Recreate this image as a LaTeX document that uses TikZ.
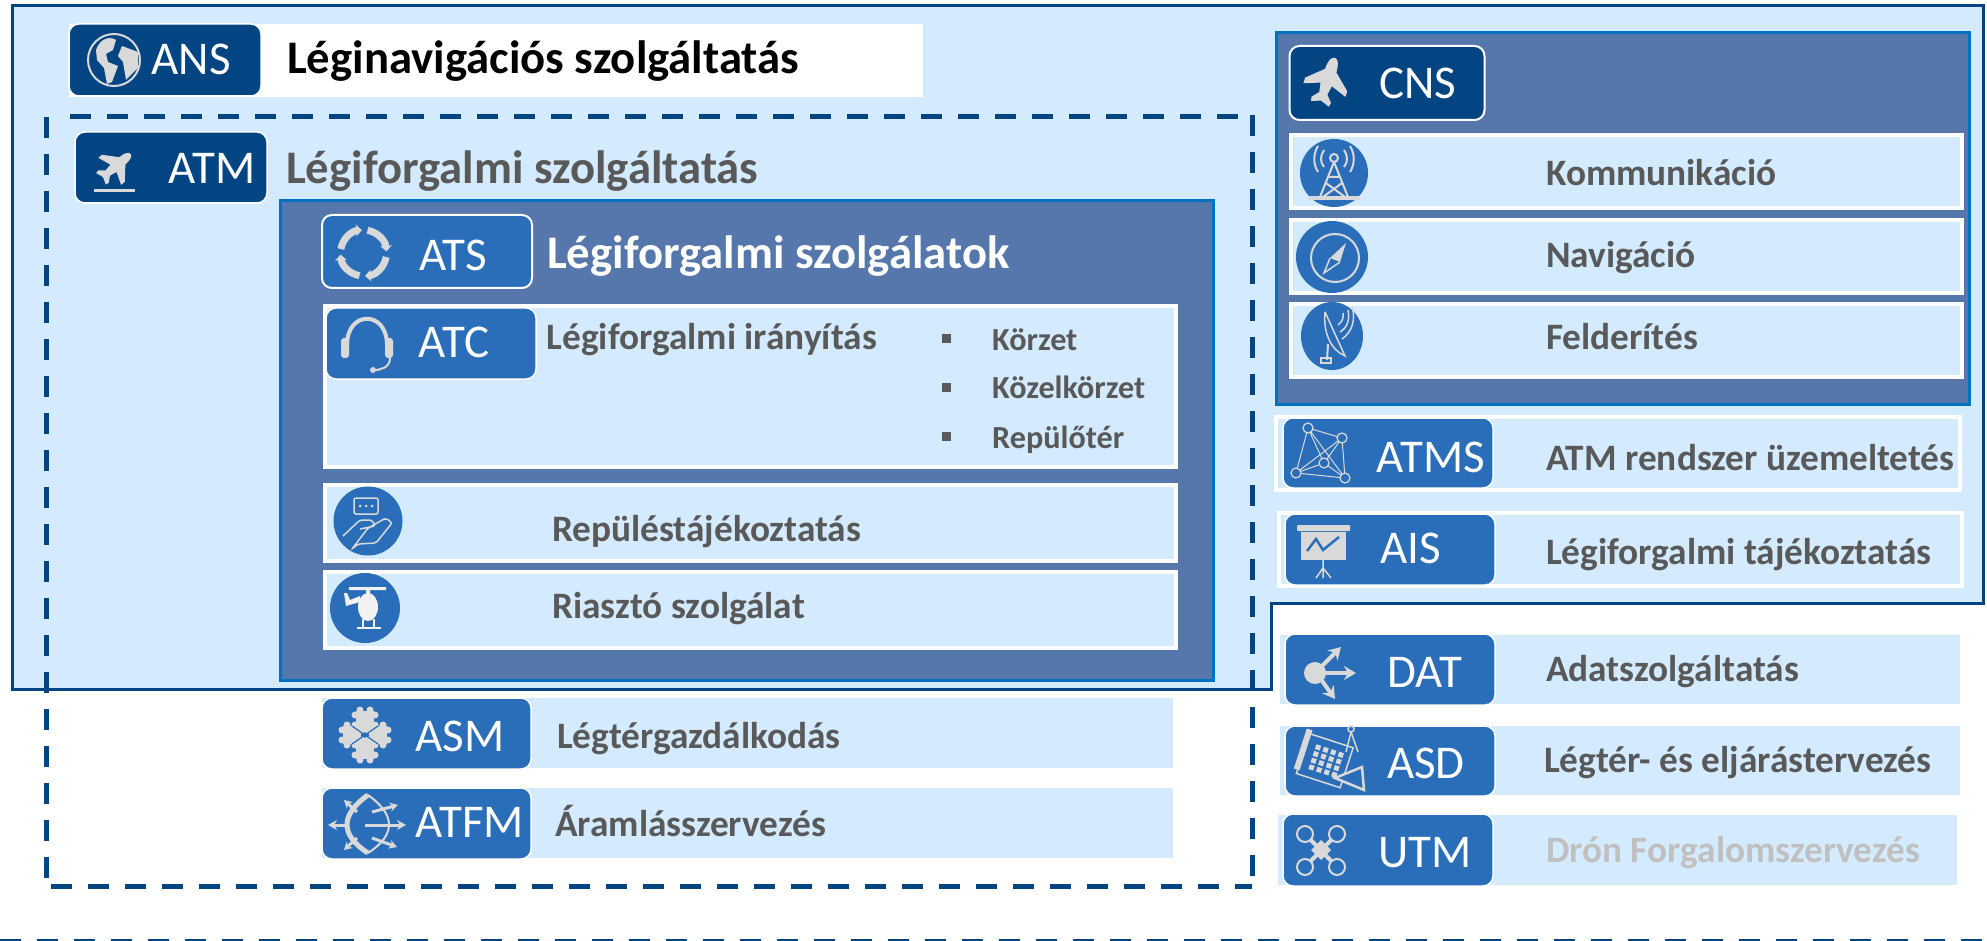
\documentclass[tikz,border=0pt]{standalone}
\usepackage{fontspec}
\usepackage{tikz}
\usepackage{xcolor}
\usetikzlibrary{arrows.meta,calc}
\setmainfont{Carlito}
\definecolor{panelblue}{RGB}{211,234,255}
\definecolor{slateblue}{RGB}{86,119,171}
\definecolor{navyblue}{RGB}{3,68,130}
\definecolor{badgeblue}{RGB}{42,110,186}
\definecolor{edgeblue}{RGB}{0,112,192}
\definecolor{textgrey}{RGB}{89,89,89}
\definecolor{fadegrey}{RGB}{192,192,192}
\definecolor{icongrey}{RGB}{217,217,217}
\tikzset{
  navybadge/.style={fill=navyblue,draw=white,line width=1.5,rounded corners=10},
  bluebadge/.style={fill=badgeblue,draw=white,line width=1.5,rounded corners=10},
  rowbox/.style={fill=panelblue,draw=white,line width=3.5},
  slatepanel/.style={fill=slateblue,draw=edgeblue,line width=3},
  atmdash/.style={draw=navyblue,line width=5,dash pattern=on 21 off 16},
  badgetext/.style={text=white,font=\fontsize{47}{50}\selectfont,inner sep=0},
  bigtitle/.style={anchor=base west,yshift=-2pt,font=\fontsize{46.7}{50}\selectfont\bfseries,inner sep=0},
  rowtitle/.style={anchor=base west,yshift=-2pt,text=textgrey,font=\fontsize{37.3}{40}\selectfont\bfseries,inner sep=0},
  subtitle/.style={anchor=base west,yshift=-2pt,text=textgrey,font=\fontsize{32.2}{36}\selectfont\bfseries,inner sep=0},
  roundicon/.style={fill=badgeblue},
  planeicon/.pic={
    \fill[icongrey] (0,-30) .. controls (4,-30) and (7,-24) .. (7,-14) -- (26,3) -- (26,10) -- (7,3) -- (5,14) -- (12,22) -- (11,27)
      -- (0,23) -- (-11,27) -- (-12,22) -- (-5,14) -- (-7,3) -- (-26,10) -- (-26,3) -- (-7,-14) .. controls (-7,-24) and (-4,-30) .. (0,-30) -- cycle;
  },
}
\begin{document}
\begin{tikzpicture}[x=1pt,y=-1pt]
    \useasboundingbox (0,0) rectangle (1987,941);

    % Outer panel with notch
    \draw[fill=panelblue,draw=navyblue,line width=3] (12,6) -- (1983,6) -- (1983,603) -- (1271,603) -- (1271,689) -- (12,689) -- cycle;
    \fill[white] (69,24) rectangle (923,97);

    % ANS
    \draw[navybadge] (69,24) rectangle (261,96);
    \draw[icongrey,line width=2] (114,60) circle (26);
    \fill[icongrey] (96,50) .. controls (100,38) and (110,36) .. (116,40) -- (113,50) -- (106,54) -- (108,62) -- (118,66) -- (112,82) -- (107,84) -- (104,68) -- (97,60) -- cycle;
    \fill[icongrey] (122,46) -- (138,52) -- (138,68) -- (126,80) -- (123,62) -- (118,56) -- cycle;
    \node[badgetext] (ans) at (191,59) {ANS};
    \node[bigtitle] (anstitle) at (287,72) {Léginavigációs szolgáltatás};

    % ATM dashed frame
    \draw[atmdash] (46.5,117) -- (46.5,886);
    \draw[atmdash] (70,117) -- (1252,117);
    \draw[atmdash] (1252,115) -- (1252,886);
    \draw[atmdash] (51,886) -- (1252,886);

    \draw[navybadge] (75,132) rectangle (267,203);
    \pic[rotate=-50,scale=.68] at (115,167) {planeicon};
    \fill[icongrey] (94,189) rectangle (135,192);
    \node[badgetext] (atm) at (212,168) {ATM};
    \node[bigtitle,text=textgrey] (atmtitle) at (286,182) {Légiforgalmi szolgáltatás};

    % ATS panel
    \draw[slatepanel] (280,201) rectangle (1213,680);
    \draw[bluebadge,line width=2] (322,215) rectangle (532,288);
    \foreach \a in {10,100,190,280} {
        \draw[icongrey,line width=7,-{Stealth[length=6,width=12]}] ($(363.5,253)+(\a:23)$) arc[start angle=\a,end angle=\a+76,radius=23];
    }
    \node[badgetext] (ats) at (453,255) {ATS};
    \node[bigtitle,text=white] (atstitle) at (547,267) {Légiforgalmi szolgálatok};

    % ATC row
    \draw[rowbox] (325,306) rectangle (1176,467);
    \draw[bluebadge] (326,308) rectangle (536,379);
    \draw[icongrey,line width=4] (347,345) .. controls (347,310) and (387,310) .. (387,345);
    \fill[icongrey,rounded corners=3] (341,338) rectangle (349,358);
    \fill[icongrey,rounded corners=3] (385,338) rectangle (393,358);
    \draw[icongrey,line width=2] (390,358) .. controls (390,368) and (380,370) .. (374,370);
    \fill[icongrey] (373,370) circle (3);
    \node[badgetext] (atc) at (454,342) {ATC};
    \node[rowtitle] (atctitle) at (546.5,348) {Légiforgalmi irányítás};
    \foreach \y/\name/\label in {339/korzet/Körzet,387/kozel/Közelkörzet,436/repter/Repülőtér} {
        \fill[textgrey] (942,\y-4.5) rectangle (951,\y+4.5);
        \node[subtitle] (\name) at (992,\y+10) {\label};
    }

    % FIS and alerting rows
    \draw[rowbox] (325,485) rectangle (1176,561);
    \fill[roundicon] (368,521) circle (34.5);
    \draw[icongrey,line width=1.5,rounded corners=2] (354,498) -- (378,498) -- (378,514) -- (373,514) -- (354,514) -- cycle;
    \fill[icongrey] (360,506) circle (1.5) (366,506) circle (1.5) (372,506) circle (1.5);
    \draw[icongrey,line width=1.5,rounded corners=2] (343,536) -- (360,520) -- (372,520) -- (375,526) -- (360,529) (368,528) -- (386,518) -- (392,523) -- (376,543) -- (358,544) -- (352,549) -- cycle;
    \node[rowtitle] (fis) at (552,539) {Repüléstájékoztatás};

    \draw[rowbox] (325,572) rectangle (1176,648);
    \fill[roundicon] (365,608) circle (35);
    \fill[white!95!black] (349,587) rectangle (386,590) (366,590) rectangle (370,596);
    \fill[white!95!black] (368,607) ellipse (10 and 14);
    \fill[white!95!black] (360,602) -- (346,606) -- (344,593) -- (347,593) -- (350,600) -- (360,596) -- cycle;
    \draw[white!95!black,line width=2] (357,628) -- (381,628) (363,619) -- (363,628) (374,619) -- (374,628);
    \node[rowtitle] (alert) at (552,616) {Riasztó szolgálat};

    % ASM and ATFM rows
    \fill[panelblue] (322,698) rectangle (1173,768);
    \draw[bluebadge] (322,698) rectangle (531,769);
    \foreach \dx/\dy in {-13/0,13/0,0/-15,0/15} {
        \fill[icongrey] (365+\dx-9,735+\dy-9) rectangle (365+\dx+9,735+\dy+9);
        \foreach \ex/\ey in {-10/-5,-10/5,10/-5,10/5,-5/-10,5/-10,-5/10,5/10} {
            \fill[icongrey] (365+\dx+\ex,735+\dy+\ey) circle (3.5);
        }
    }
    \draw[badgeblue,line width=1.2] (352,726) -- (378,744) (378,726) -- (352,744);
    \node[badgetext] (asm) at (460,736) {ASM};
    \node[rowtitle] (asmtitle) at (557,746) {Légtérgazdálkodás};

    \fill[panelblue] (322,788) rectangle (1173,858);
    \draw[bluebadge] (322,788) rectangle (531,859);
    \draw[icongrey,line width=5] (368,795) .. controls (340,815) and (340,835) .. (368,853);
    \draw[icongrey,line width=2] (368,795) .. controls (396,815) and (396,835) .. (368,853);
    \draw[icongrey,line width=3,-{Stealth[length=9,width=10]}] (365,825) -- (406,825);
    \draw[icongrey,line width=3,-{Stealth[length=9,width=10]}] (345,825) -- (328,825);
    \foreach \ex/\ey/\sx/\sy in {344/800/357/812,398/805/372/812,344/850/357/838,397/847/372/838} {
        \draw[icongrey,line width=3,-{Stealth[length=8,width=9]}] (\sx,\sy) -- (\ex,\ey);
    }
    \node[badgetext] (atfm) at (470,822) {ATFM};
    \node[rowtitle] (atfmtitle) at (555,834) {Áramlásszervezés};

    % CNS panel
    \draw[slatepanel] (1276,33) rectangle (1969,404);
    \draw[navybadge,line width=2] (1289.5,46) rectangle (1484.5,120);
    \pic[rotate=-18,scale=.85] at (1327,82) {planeicon};
    \node[badgetext] (cns) at (1418,83) {CNS};

    \draw[rowbox] (1291,135) rectangle (1962,208);
    \fill[roundicon] (1334,173) ellipse (34 and 34);
    \draw[icongrey,line width=2] (1334,158) circle (4) (1334,162) -- (1320,197) (1334,162) -- (1348,197) (1326,183) -- (1345,197) (1342,183) -- (1323,197) (1328,177) -- (1340,177);
    \draw[icongrey,line width=2] (1324,150) .. controls (1320,156) and (1320,162) .. (1324,167) (1344,150) .. controls (1348,156) and (1348,162) .. (1344,167);
    \draw[icongrey,line width=2] (1318,146) .. controls (1313,154) and (1313,164) .. (1318,172) (1350,146) .. controls (1355,154) and (1355,164) .. (1350,172);
    \fill[icongrey] (1308,196) rectangle (1360,200);
    \node[rowtitle] (kom) at (1546,184) {Kommunikáció};

    \draw[rowbox] (1291,220) rectangle (1962,293);
    \fill[roundicon] (1332,257) circle (36);
    \draw[icongrey,line width=2] (1335,258) circle (24);
    \fill[icongrey] (1346,243) -- (1340,262) -- (1330,258) -- cycle;
    \draw[icongrey,line width=1.5] (1340,262) -- (1324,273) -- (1330,258);
    \node[rowtitle] (nav) at (1546,266) {Navigáció};

    \draw[rowbox] (1291,304) rectangle (1962,377);
    \fill[roundicon] (1332,336) ellipse (31 and 34);
    \draw[icongrey,line width=1.5] (1325,312) .. controls (1323,333) and (1331,350) .. (1345,356) -- (1325,312);
    \draw[icongrey,line width=2] (1328,344) -- (1327,360);
    \draw[icongrey,line width=1.5] (1321,358) rectangle (1331,363);
    \draw[icongrey,line width=1.5] (1338,325) .. controls (1342,322) and (1344,318) .. (1343,313) (1340,332) .. controls (1347,328) and (1350,320) .. (1348,310) (1342,339) .. controls (1352,332) and (1356,320) .. (1352,306);
    \node[rowtitle] (fel) at (1546,348) {Felderítés};

    % Rows below the CNS panel
    \draw[rowbox] (1276,417) rectangle (1960,490);
    \draw[bluebadge] (1283,418) rectangle (1493,488);
    \coordinate (n1) at (1308,428);
    \coordinate (n2) at (1342,438);
    \coordinate (n3) at (1324,463);
    \coordinate (n4) at (1296,473);
    \coordinate (n5) at (1345,478);
    \draw[icongrey,line width=1] (n1) -- (n2) -- (n3) -- (n4) -- (n1) -- (n3) -- (n5) -- (n2) (n4) -- (n2) (n4) -- (n5) (n1) -- (n5);
    \foreach \n in {n1,n2,n3,n4,n5} {
        \draw[icongrey,line width=1.2,fill=badgeblue] (\n) circle (5);
    }
    \node[badgetext] (atms) at (1431,457) {ATMS};
    \node[rowtitle] (atmstitle) at (1546,468) {ATM rendszer üzemeltetés};

    \draw[rowbox] (1279,513) rectangle (1962,586);
    \draw[bluebadge] (1285,514) rectangle (1495,585);
    \fill[icongrey,rounded corners=1] (1297,525) rectangle (1350,531);
    \fill[icongrey] (1301,532) rectangle (1346,560);
    \draw[badgeblue,line width=2.5] (1307,551) -- (1316,539) -- (1323,550) -- (1339,537);
    \draw[icongrey,line width=1.5] (1323,560) -- (1323,578) (1323,568) -- (1316,578) (1323,568) -- (1331,578);
    \node[badgetext] (ais) at (1411,548) {AIS};
    \node[rowtitle] (aistitle) at (1546,562) {Légiforgalmi tájékoztatás};

    \fill[panelblue] (1280,635) rectangle (1960,704);
    \draw[bluebadge] (1285,634) rectangle (1495,705);
    \fill[icongrey] (1315,673) circle (11);
    \draw[icongrey,line width=4,-{Stealth[length=12,width=14]}] (1315,673) -- (1356,673);
    \draw[icongrey,line width=4,-{Stealth[length=12,width=14]}] (1320,668) -- (1341,647);
    \draw[icongrey,line width=4,-{Stealth[length=12,width=14]}] (1320,678) -- (1335,699);
    \node[badgetext] (dat) at (1425,672) {DAT};
    \node[rowtitle] (dattitle) at (1546,679) {Adatszolgáltatás};

    \fill[panelblue] (1280,726) rectangle (1960,795);
    \draw[bluebadge] (1285,726) rectangle (1495,796);
    \begin{scope}[shift={(1326,760)},rotate=-18]
        \draw[icongrey,line width=1.5] (-24,-20) rectangle (22,22);
        \fill[icongrey] (-28,-24) rectangle (-22,18);
        \foreach \i in {0,1,2,3} {
            \foreach \j in {0,1,2,3} {
                \fill[icongrey] (-14+\i*8,-12+\j*7) rectangle (-9+\i*8,-7+\j*7);
            }
        }
    \end{scope}
    \draw[icongrey,line width=1.5] (1351,729) circle (3) (1351,732) -- (1346,752) (1351,732) -- (1358,752);
    \draw[icongrey,line width=2.5,fill=badgeblue] (1362,767) -- (1364,790) -- (1335,778) -- cycle;
    \node[badgetext] (asd) at (1426,763) {ASD};
    \node[rowtitle] (asdtitle) at (1544,770) {Légtér- és eljárástervezés};

    \fill[panelblue] (1278,815) rectangle (1957,885);
    \draw[bluebadge] (1283,814) rectangle (1493,886);
    \draw[icongrey,line width=4] (1305,834) -- (1337,867) (1337,834) -- (1305,867);
    \fill[icongrey] (1321,840) -- (1331,850) -- (1321,860) -- (1311,850) -- cycle;
    \foreach \x/\y in {1305/834,1337/834,1305/867,1337/867} {
        \draw[icongrey,line width=2,fill=badgeblue] (\x,\y) circle (8);
    }
    \node[badgetext] (utm) at (1425,853) {UTM};
    \node[rowtitle,text=fadegrey] (utmtitle) at (1546,860) {Drón Forgalomszervezés};

    % Thin dashed rule at the bottom
    \draw[navyblue,line width=2,dash pattern=on 21 off 16] (0,940) -- (1987,940);
\end{tikzpicture}
\end{document}
